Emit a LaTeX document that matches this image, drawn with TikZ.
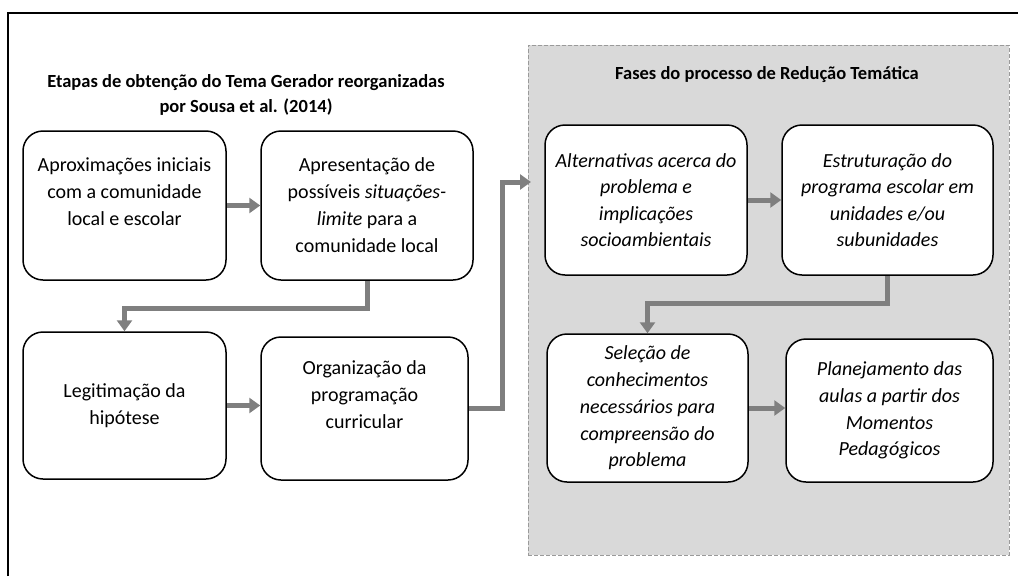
\documentclass[tikz,border=0pt]{standalone}
\usepackage{fontspec}
\setmainfont{Carlito}
\usetikzlibrary{arrows.meta}
\definecolor{arrowgray}{HTML}{7F7F7F}
\definecolor{panelgray}{HTML}{D9D9D9}
\definecolor{dashgray}{HTML}{9A9A9A}
\begin{document}
\begin{tikzpicture}[x=1pt,y=-1pt,
  box/.style={draw=black, line width=1.5pt, rounded corners=20pt, fill=white, align=center,
    font=\fontsize{20}{27}\selectfont, inner sep=0pt},
  flow/.style={draw=arrowgray, line width=5pt, -{Triangle[width=15pt,length=11pt]}},
  ttl/.style={font=\bfseries\fontsize{18.5}{25}\selectfont, align=center, inner sep=0pt}]
\useasboundingbox (0,0) rectangle (1018,576);
% frame
\draw[line width=2pt] (8,576) -- (8,13) -- (1018,13);
% panel
\node[draw=dashgray, fill=panelgray, line width=0.8pt, dash pattern=on 4pt off 2pt,
  minimum width=481pt, minimum height=510pt, inner sep=0pt] (panel) at (768.5,300) {};
% titles
\node[ttl] (t1) at (246,95) {Etapas de obtenção do Tema Gerador reorganizadas\\por Sousa et al. (2014)};
\node[ttl] (t2) at (767,75) {Fases do processo de Redução Temática};
% left boxes
\node[box, minimum width=203pt, minimum height=149pt] (b1) at (124.5,205.5)
  {Aproximações iniciais\\com a comunidade\\local e escolar\\\mbox{}};
\node[box, minimum width=212pt, minimum height=149pt] (b2) at (367,205.5)
  {Apresentação de\\possíveis \textit{situações-}\\\textit{limite} para a\\comunidade local};
\node[box, minimum width=203pt, minimum height=147pt] (b3) at (124.5,405.5)
  {Legitimação da\\hipótese};
\node[box, minimum width=207pt, minimum height=143pt] (b4) at (364.5,408.5)
  {Organização da\\programação\\curricular\\\mbox{}};
% right boxes
\node[box, font=\itshape\fontsize{20}{26.5}\selectfont, minimum width=202pt, minimum height=150pt] (c1) at (646,200)
  {Alternativas acerca do\\problema e\\implicações\\socioambientais};
\node[box, font=\itshape\fontsize{20}{26.5}\selectfont, minimum width=211pt, minimum height=150pt] (c2) at (887.5,200)
  {Estruturação do\\programa escolar em\\unidades e/ou\\subunidades};
\node[box, font=\itshape\fontsize{20}{26.8}\selectfont, minimum width=201pt, minimum height=148pt] (c3) at (647.5,408)
  {Seleção de\\conhecimentos\\necessários para\\compreensão do\\problema};
\node[box, font=\itshape\fontsize{20}{26.8}\selectfont, minimum width=207pt, minimum height=143pt] (c4) at (889.5,410.5)
  {Planejamento das\\aulas a partir dos\\Momentos\\Pedagógicos};
% connectors
\coordinate (pin) at (531,182);
\draw[flow] (b1.east) -- (b2.west);
\draw[flow] (b2.south) -- ++(0,28) -| (b3.north);
\draw[flow] (b3.east) -- (b3.east -| b4.west);
\draw[flow] (b4.east) -- ++(34,0) |- (pin);
\draw[flow] (c1.east) -- (c2.west);
\draw[flow] (c2.south) -- ++(0,28) -| (c3.north);
\draw[flow] (c3.east) -- (c3.east -| c4.west);
\end{tikzpicture}
\end{document}
